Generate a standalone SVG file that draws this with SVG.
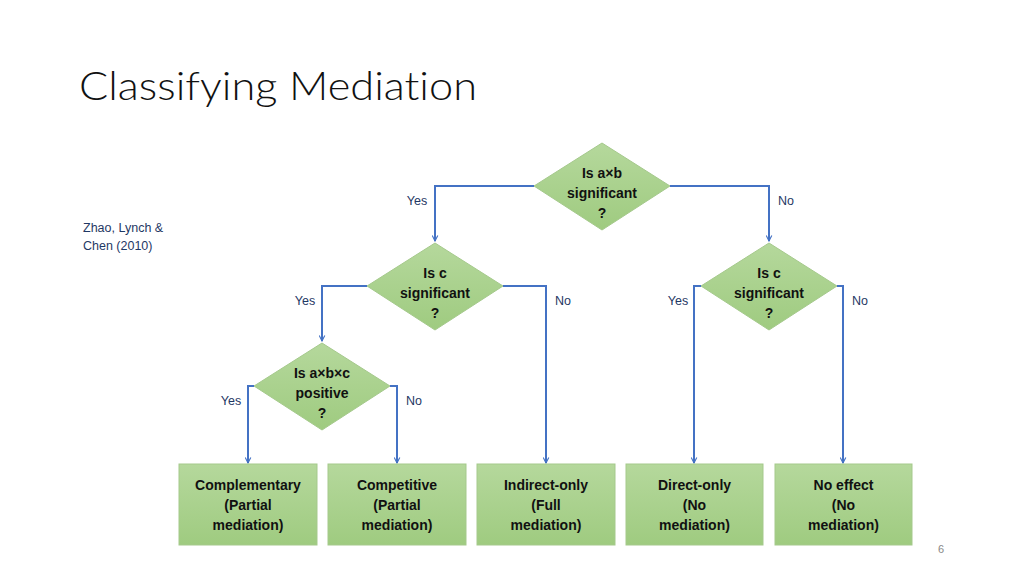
<svg xmlns="http://www.w3.org/2000/svg" width="1024" height="576" viewBox="0 0 1024 576">
<defs>
<linearGradient id="g" x1="0" y1="0" x2="0" y2="1">
<stop offset="0" stop-color="#b5d89c"/>
<stop offset="1" stop-color="#9fcb80"/>
</linearGradient>
<marker id="arr" viewBox="0 0 10 10" refX="9" refY="5" markerWidth="7" markerHeight="7" markerUnits="userSpaceOnUse" orient="auto">
<path d="M1,1 L9,5 L1,9" fill="none" stroke="#4472c4" stroke-width="1.6"/>
</marker>
</defs>
<style>
.sh{fill:url(#g);stroke:#a5c98c;stroke-width:1}
.t{font-family:"Liberation Sans",Arial,sans-serif;font-weight:bold;font-size:14px;fill:#111;text-anchor:middle}
.l{font-family:"Liberation Sans",Arial,sans-serif;font-size:12.5px;fill:#1f3864;text-anchor:middle}
.c{fill:none;stroke:#4472c4;stroke-width:2;marker-end:url(#arr)}
.title{font-family:Lato,"Liberation Sans",Arial,sans-serif;font-weight:300;font-size:40px;fill:#111;font-variant-ligatures:none}
</style>
<rect width="1024" height="576" fill="#fff"/>
<text class="title" x="79" y="100" textLength="398" lengthAdjust="spacingAndGlyphs">Classifying Mediation</text>
<text x="83" y="232" font-family="Liberation Sans,Arial,sans-serif" font-size="12.5" fill="#1f3864">Zhao, Lynch &amp;</text>
<text x="83" y="250" font-family="Liberation Sans,Arial,sans-serif" font-size="12.5" fill="#1f3864">Chen (2010)</text>
<text x="941" y="553" font-family="Liberation Sans,Arial,sans-serif" font-size="11" fill="#888" text-anchor="middle">6</text>
<g id="connectors">
<path class="c" d="M534,186 H435 V241"/>
<path class="c" d="M670,186 H769 V241"/>
<path class="c" d="M367,286 H322 V341"/>
<path class="c" d="M503,286 H546 V463"/>
<path class="c" d="M701,286 H694 V463"/>
<path class="c" d="M837,286 H843 V463"/>
<path class="c" d="M254,386 H248 V463"/>
<path class="c" d="M390,386 H397 V463"/>
<text class="l" x="417" y="205">Yes</text>
<text class="l" x="786" y="205">No</text>
<text class="l" x="305" y="305">Yes</text>
<text class="l" x="563" y="305">No</text>
<text class="l" x="678" y="305">Yes</text>
<text class="l" x="860" y="305">No</text>
<text class="l" x="231" y="405">Yes</text>
<text class="l" x="414" y="405">No</text>
</g>
<g id="d1">
<polygon class="sh" points="602,143 670,186 602,230 534,186"/>
<text class="t" x="602" y="178">Is a×b</text>
<text class="t" x="602" y="198">significant</text>
<text class="t" x="602" y="218">?</text>
</g>
<g id="d2">
<polygon class="sh" points="435,243 503,286 435,330 367,286"/>
<text class="t" x="435" y="278">Is c</text>
<text class="t" x="435" y="298">significant</text>
<text class="t" x="435" y="318">?</text>
</g>
<g id="d3">
<polygon class="sh" points="769,243 837,286 769,330 701,286"/>
<text class="t" x="769" y="278">Is c</text>
<text class="t" x="769" y="298">significant</text>
<text class="t" x="769" y="318">?</text>
</g>
<g id="d4">
<polygon class="sh" points="322,343 390,386 322,430 254,386"/>
<text class="t" x="322" y="378">Is a×b×c</text>
<text class="t" x="322" y="398">positive</text>
<text class="t" x="322" y="418">?</text>
</g>
<g id="b1">
<rect class="sh" x="179" y="464" width="138" height="81"/>
<text class="t" x="248" y="490">Complementary</text>
<text class="t" x="248" y="510">(Partial</text>
<text class="t" x="248" y="530">mediation)</text>
</g>
<g id="b2">
<rect class="sh" x="328" y="464" width="138" height="81"/>
<text class="t" x="397" y="490">Competitive</text>
<text class="t" x="397" y="510">(Partial</text>
<text class="t" x="397" y="530">mediation)</text>
</g>
<g id="b3">
<rect class="sh" x="477" y="464" width="138" height="81"/>
<text class="t" x="546" y="490">Indirect-only</text>
<text class="t" x="546" y="510">(Full</text>
<text class="t" x="546" y="530">mediation)</text>
</g>
<g id="b4">
<rect class="sh" x="626" y="464" width="137" height="81"/>
<text class="t" x="694.5" y="490">Direct-only</text>
<text class="t" x="694.5" y="510">(No</text>
<text class="t" x="694.5" y="530">mediation)</text>
</g>
<g id="b5">
<rect class="sh" x="775" y="464" width="137" height="81"/>
<text class="t" x="843.5" y="490">No effect</text>
<text class="t" x="843.5" y="510">(No</text>
<text class="t" x="843.5" y="530">mediation)</text>
</g>
</svg>
